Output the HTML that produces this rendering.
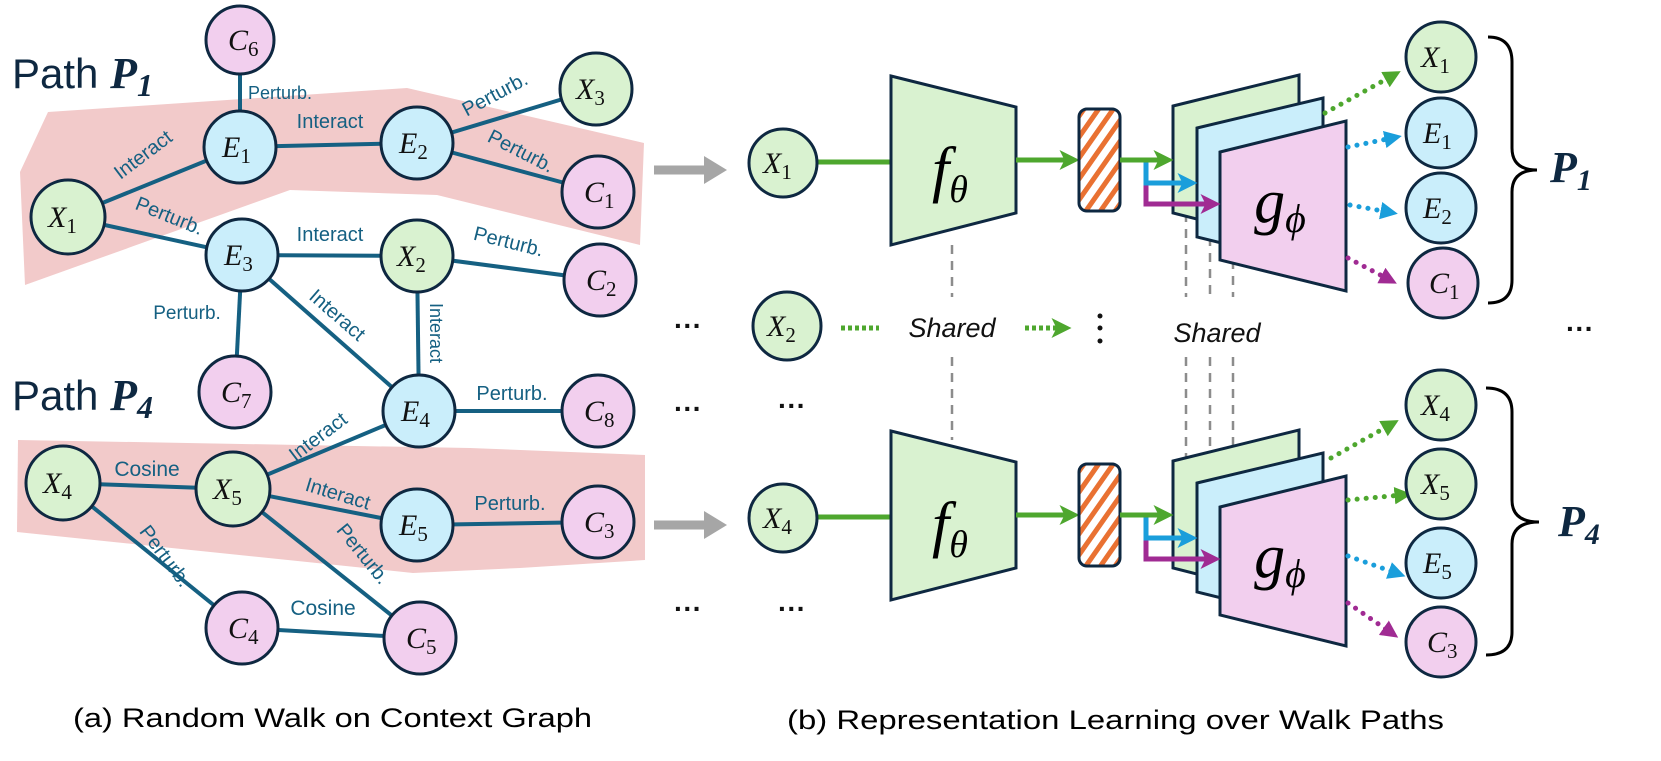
<!DOCTYPE html>
<html><head><meta charset="utf-8"><style>
html,body{margin:0;padding:0;background:#fff;}
svg{display:block;}
.n{stroke:#0e2841;stroke-width:3;}
.g{fill:#d9f2d0}.b{fill:#caeefb}.p{fill:#f2cfee}
.e{stroke:#156082;stroke-width:4;fill:none}
.nl{font-family:"Liberation Serif",serif;font-style:italic;font-size:30px;fill:#111;}
.nl tspan.s{font-style:normal;font-size:21px;}
.el{font-family:"Liberation Sans",sans-serif;font-size:20px;fill:#156082;}
.cap{font-family:"Liberation Sans",sans-serif;font-size:27px;fill:#000;}
.path{font-family:"Liberation Sans",sans-serif;font-size:42px;fill:#0e2841;}
.P{font-family:"Liberation Serif",serif;font-style:italic;font-weight:bold;fill:#0e2841;}
.sh{font-family:"Liberation Sans",sans-serif;font-style:italic;font-size:27px;fill:#111;}
.dots{font-family:"Liberation Sans",sans-serif;font-size:28px;fill:#111;font-weight:bold}
</style></head><body>
<svg width="1661" height="761" viewBox="0 0 1661 761" xmlns="http://www.w3.org/2000/svg">
<defs>
<pattern id="hatch" patternUnits="userSpaceOnUse" width="12" height="12" patternTransform="rotate(35)">
<rect width="12" height="12" fill="#fff"/><rect width="5" height="12" fill="#e97132"/>
</pattern>
<marker id="ag" markerWidth="4" markerHeight="4" refX="2.5" refY="2" orient="auto" markerUnits="strokeWidth"><path d="M0,0 L4,2 L0,4 L1,2z" fill="#4ea72e"/></marker>
<marker id="ab" markerWidth="4" markerHeight="4" refX="2.5" refY="2" orient="auto" markerUnits="strokeWidth"><path d="M0,0 L4,2 L0,4 L1,2z" fill="#1a9edb"/></marker>
<marker id="ap" markerWidth="4" markerHeight="4" refX="2.5" refY="2" orient="auto" markerUnits="strokeWidth"><path d="M0,0 L4,2 L0,4 L1,2z" fill="#a02b93"/></marker>
<marker id="ag2" markerWidth="3.5" markerHeight="3.5" refX="1.5" refY="1.75" orient="auto" markerUnits="strokeWidth"><path d="M0,0 L3.5,1.75 L0,3.5z" fill="#4ea72e"/></marker>
<marker id="ab2" markerWidth="3.5" markerHeight="3.5" refX="1.5" refY="1.75" orient="auto" markerUnits="strokeWidth"><path d="M0,0 L3.5,1.75 L0,3.5z" fill="#1a9edb"/></marker>
<marker id="ap2" markerWidth="3.5" markerHeight="3.5" refX="1.5" refY="1.75" orient="auto" markerUnits="strokeWidth"><path d="M0,0 L3.5,1.75 L0,3.5z" fill="#a02b93"/></marker>
</defs>

<polygon points="48,112 407,88 644,143 640,245 437,195 290,190 25,285 20,172" fill="#f2caca"/>
<polygon points="18,440 470,448 645,455 645,560 520,568 413,573 17,532" fill="#f2caca"/>

<g class="e">
<line x1="240" y1="40" x2="240" y2="147"/>
<line x1="68" y1="217" x2="240" y2="147"/>
<line x1="240" y1="147" x2="417" y2="143"/>
<line x1="417" y1="143" x2="596" y2="89"/>
<line x1="417" y1="143" x2="598" y2="192"/>
<line x1="68" y1="217" x2="242" y2="255"/>
<line x1="242" y1="255" x2="417" y2="256"/>
<line x1="417" y1="256" x2="600" y2="280"/>
<line x1="242" y1="255" x2="235" y2="392"/>
<line x1="242" y1="255" x2="419" y2="411"/>
<line x1="417" y1="256" x2="419" y2="411"/>
<line x1="419" y1="411" x2="598" y2="411"/>
<line x1="233" y1="489" x2="419" y2="411"/>
<line x1="63" y1="483" x2="233" y2="489"/>
<line x1="233" y1="489" x2="417" y2="525"/>
<line x1="417" y1="525" x2="598" y2="522"/>
<line x1="233" y1="489" x2="420" y2="638"/>
<line x1="63" y1="483" x2="242" y2="628"/>
<line x1="242" y1="628" x2="420" y2="638"/>
</g>

<g class="el">
<text x="248" y="99" font-size="18">Perturb.</text>
<text transform="translate(147,160) rotate(-37)" text-anchor="middle">Interact</text>
<text x="330" y="128" text-anchor="middle">Interact</text>
<text transform="translate(498,100) rotate(-28)" text-anchor="middle">Perturb.</text>
<text transform="translate(518,157) rotate(27)" text-anchor="middle">Perturb.</text>
<text transform="translate(167,222) rotate(22)" text-anchor="middle">Perturb.</text>
<text x="330" y="241" text-anchor="middle">Interact</text>
<text transform="translate(507,248) rotate(14)" text-anchor="middle">Perturb.</text>
<text x="187" y="319" text-anchor="middle" font-size="19">Perturb.</text>
<text transform="translate(333,320) rotate(41)" text-anchor="middle">Interact</text>
<text transform="translate(430,333) rotate(90)" text-anchor="middle" font-size="18">Interact</text>
<text x="512" y="400" text-anchor="middle">Perturb.</text>
<text transform="translate(322,442) rotate(-37)" text-anchor="middle">Interact</text>
<text x="147" y="476" text-anchor="middle" font-size="21">Cosine</text>
<text transform="translate(336,500) rotate(17)" text-anchor="middle">Interact</text>
<text x="510" y="510" text-anchor="middle">Perturb.</text>
<text transform="translate(358,558) rotate(51)" text-anchor="middle">Perturb.</text>
<text transform="translate(160,560) rotate(53)" text-anchor="middle">Perturb.</text>
<text x="323" y="615" text-anchor="middle" font-size="21">Cosine</text>
</g>

<g>
<circle class="n p" cx="240" cy="40" r="34"/><text class="nl" x="228" y="50">C<tspan class="s" dy="6">6</tspan></text>
<circle class="n b" cx="240" cy="147" r="36"/><text class="nl" x="222" y="157">E<tspan class="s" dy="6">1</tspan></text>
<circle class="n b" cx="417" cy="143" r="36"/><text class="nl" x="399" y="153">E<tspan class="s" dy="6">2</tspan></text>
<circle class="n g" cx="596" cy="89" r="36"/><text class="nl" x="576" y="99">X<tspan class="s" dy="6">3</tspan></text>
<circle class="n p" cx="598" cy="192" r="36"/><text class="nl" x="584" y="202">C<tspan class="s" dy="6">1</tspan></text>
<circle class="n g" cx="68" cy="217" r="37"/><text class="nl" x="48" y="227">X<tspan class="s" dy="6">1</tspan></text>
<circle class="n b" cx="242" cy="255" r="36"/><text class="nl" x="224" y="265">E<tspan class="s" dy="6">3</tspan></text>
<circle class="n g" cx="417" cy="256" r="36"/><text class="nl" x="397" y="266">X<tspan class="s" dy="6">2</tspan></text>
<circle class="n p" cx="600" cy="280" r="36"/><text class="nl" x="586" y="290">C<tspan class="s" dy="6">2</tspan></text>
<circle class="n p" cx="235" cy="392" r="36"/><text class="nl" x="221" y="402">C<tspan class="s" dy="6">7</tspan></text>
<circle class="n b" cx="419" cy="411" r="36"/><text class="nl" x="401" y="421">E<tspan class="s" dy="6">4</tspan></text>
<circle class="n p" cx="598" cy="411" r="36"/><text class="nl" x="584" y="421">C<tspan class="s" dy="6">8</tspan></text>
<circle class="n g" cx="63" cy="483" r="37"/><text class="nl" x="43" y="493">X<tspan class="s" dy="6">4</tspan></text>
<circle class="n g" cx="233" cy="489" r="37"/><text class="nl" x="213" y="499">X<tspan class="s" dy="6">5</tspan></text>
<circle class="n b" cx="417" cy="525" r="36"/><text class="nl" x="399" y="535">E<tspan class="s" dy="6">5</tspan></text>
<circle class="n p" cx="598" cy="522" r="36"/><text class="nl" x="584" y="532">C<tspan class="s" dy="6">3</tspan></text>
<circle class="n p" cx="242" cy="628" r="36"/><text class="nl" x="228" y="638">C<tspan class="s" dy="6">4</tspan></text>
<circle class="n p" cx="420" cy="638" r="36"/><text class="nl" x="406" y="648">C<tspan class="s" dy="6">5</tspan></text>
</g>

<text class="path" x="12" y="88">Path <tspan class="P" font-size="44">P</tspan><tspan class="P" font-size="32" dy="8">1</tspan></text>
<text class="path" x="12" y="410">Path <tspan class="P" font-size="44">P</tspan><tspan class="P" font-size="32" dy="8">4</tspan></text>

<text class="cap" x="73" y="727" textLength="519" lengthAdjust="spacingAndGlyphs">(a) Random Walk on Context Graph</text>
<text class="cap" x="787" y="729" textLength="657" lengthAdjust="spacingAndGlyphs">(b) Representation Learning over Walk Paths</text>

<g stroke="#8c8c8c" stroke-width="2.5" stroke-dasharray="9,7">
<line x1="952" y1="245" x2="952" y2="297"/><line x1="952" y1="357" x2="952" y2="440"/>
<line x1="1186" y1="213" x2="1186" y2="297"/><line x1="1186" y1="357" x2="1186" y2="470"/>
<line x1="1210" y1="237" x2="1210" y2="297"/><line x1="1210" y1="357" x2="1210" y2="490"/>
<line x1="1233" y1="260" x2="1233" y2="297"/><line x1="1233" y1="357" x2="1233" y2="510"/>
</g>

<g>
<path d="M654,170 L708,170" stroke="#a6a6a6" stroke-width="9"/><polygon points="704,156 727,170 704,184" fill="#a6a6a6"/>
<line x1="818" y1="162" x2="891" y2="162" stroke="#4ea72e" stroke-width="5"/>
<polygon class="n g" points="891,76 1016,107 1016,213 891,245"/>
<text x="950" y="190" text-anchor="middle" font-family="Liberation Serif,serif" font-style="italic" font-size="62">f<tspan font-size="38" dy="12">θ</tspan></text>
<line x1="1016" y1="160" x2="1072" y2="160" stroke="#4ea72e" stroke-width="5" marker-end="url(#ag)"/>
<rect x="1079" y="109" width="41" height="102" rx="8" fill="url(#hatch)" stroke="#0e2841" stroke-width="3"/>
<polygon class="n g" points="1173,106 1299,75 1299,245 1173,213"/>
<polygon class="n b" points="1197,128 1323,98 1323,268 1197,237"/>
<polygon class="n p" points="1220,152 1346,121 1346,291 1220,260"/>
<polyline points="1146,160 1146,204 1213,204" fill="none" stroke="#a02b93" stroke-width="5" marker-end="url(#ap)"/>
<polyline points="1146,160 1146,183 1190,183" fill="none" stroke="#1a9edb" stroke-width="5" marker-end="url(#ab)"/>
<line x1="1120" y1="160" x2="1166" y2="160" stroke="#4ea72e" stroke-width="5" marker-end="url(#ag)"/>
<text x="1280" y="222" text-anchor="middle" font-family="Liberation Serif,serif" font-style="italic" font-size="62">g<tspan font-size="40" dy="10">ϕ</tspan></text>
<circle class="n g" cx="783" cy="163" r="34"/><text class="nl" x="763" y="173">X<tspan class="s" dy="6">1</tspan></text>
</g>
<g transform="translate(0,355)">
<path d="M654,170 L708,170" stroke="#a6a6a6" stroke-width="9"/><polygon points="704,156 727,170 704,184" fill="#a6a6a6"/>
<line x1="818" y1="162" x2="891" y2="162" stroke="#4ea72e" stroke-width="5"/>
<polygon class="n g" points="891,76 1016,107 1016,213 891,245"/>
<text x="950" y="190" text-anchor="middle" font-family="Liberation Serif,serif" font-style="italic" font-size="62">f<tspan font-size="38" dy="12">θ</tspan></text>
<line x1="1016" y1="160" x2="1072" y2="160" stroke="#4ea72e" stroke-width="5" marker-end="url(#ag)"/>
<rect x="1079" y="109" width="41" height="102" rx="8" fill="url(#hatch)" stroke="#0e2841" stroke-width="3"/>
<polygon class="n g" points="1173,106 1299,75 1299,245 1173,213"/>
<polygon class="n b" points="1197,128 1323,98 1323,268 1197,237"/>
<polygon class="n p" points="1220,152 1346,121 1346,291 1220,260"/>
<polyline points="1146,160 1146,204 1213,204" fill="none" stroke="#a02b93" stroke-width="5" marker-end="url(#ap)"/>
<polyline points="1146,160 1146,183 1190,183" fill="none" stroke="#1a9edb" stroke-width="5" marker-end="url(#ab)"/>
<line x1="1120" y1="160" x2="1166" y2="160" stroke="#4ea72e" stroke-width="5" marker-end="url(#ag)"/>
<text x="1280" y="222" text-anchor="middle" font-family="Liberation Serif,serif" font-style="italic" font-size="62">g<tspan font-size="40" dy="10">ϕ</tspan></text>
<circle class="n g" cx="783" cy="163" r="34"/><text class="nl" x="763" y="173">X<tspan class="s" dy="6">4</tspan></text>
</g>

<circle class="n g" cx="787" cy="326" r="34"/><text class="nl" x="767" y="336">X<tspan class="s" dy="6">2</tspan></text>
<line x1="841" y1="328" x2="879" y2="328" stroke="#4ea72e" stroke-width="5" stroke-dasharray="4,3"/>
<text class="sh" x="952" y="337" text-anchor="middle">Shared</text>
<line x1="1025" y1="328" x2="1064" y2="328" stroke="#4ea72e" stroke-width="5" stroke-dasharray="4,3" marker-end="url(#ag)"/>
<circle cx="1100" cy="316" r="2.5" fill="#111"/><circle cx="1100" cy="328" r="2.5" fill="#111"/><circle cx="1100" cy="341" r="2.5" fill="#111"/>
<text class="sh" x="1217" y="342" text-anchor="middle">Shared</text>
<text class="dots" x="688" y="335" text-anchor="middle">···</text>
<text class="dots" x="1580" y="338" text-anchor="middle">···</text>
<text class="dots" x="688" y="418" text-anchor="middle">···</text>
<text class="dots" x="792" y="415" text-anchor="middle">···</text>
<text class="dots" x="688" y="618" text-anchor="middle">···</text>
<text class="dots" x="792" y="618" text-anchor="middle">···</text>

<g stroke-width="5" stroke-dasharray="0.1,9" stroke-linecap="round" fill="none">
<line x1="1325" y1="113" x2="1392" y2="76" stroke="#4ea72e" marker-end="url(#ag2)"/>
<line x1="1348" y1="147" x2="1392" y2="138" stroke="#1a9edb" marker-end="url(#ab2)"/>
<line x1="1350" y1="205" x2="1388" y2="212" stroke="#1a9edb" marker-end="url(#ab2)"/>
<line x1="1348" y1="258" x2="1388" y2="279" stroke="#a02b93" marker-end="url(#ap2)"/>
<line x1="1331" y1="458" x2="1390" y2="425" stroke="#4ea72e" marker-end="url(#ag2)"/>
<line x1="1348" y1="500" x2="1402" y2="495" stroke="#4ea72e" marker-end="url(#ag2)"/>
<line x1="1348" y1="556" x2="1396" y2="573" stroke="#1a9edb" marker-end="url(#ab2)"/>
<line x1="1348" y1="603" x2="1390" y2="632" stroke="#a02b93" marker-end="url(#ap2)"/>
</g>
<g>
<circle class="n g" cx="1441" cy="57" r="35"/><text class="nl" x="1421" y="67">X<tspan class="s" dy="6">1</tspan></text>
<circle class="n b" cx="1441" cy="133" r="35"/><text class="nl" x="1423" y="143">E<tspan class="s" dy="6">1</tspan></text>
<circle class="n b" cx="1441" cy="208" r="35"/><text class="nl" x="1423" y="218">E<tspan class="s" dy="6">2</tspan></text>
<circle class="n p" cx="1443" cy="283" r="35"/><text class="nl" x="1429" y="293">C<tspan class="s" dy="6">1</tspan></text>
<circle class="n g" cx="1441" cy="405" r="35"/><text class="nl" x="1421" y="415">X<tspan class="s" dy="6">4</tspan></text>
<circle class="n g" cx="1441" cy="484" r="35"/><text class="nl" x="1421" y="494">X<tspan class="s" dy="6">5</tspan></text>
<circle class="n b" cx="1441" cy="563" r="35"/><text class="nl" x="1423" y="573">E<tspan class="s" dy="6">5</tspan></text>
<circle class="n p" cx="1441" cy="642" r="35"/><text class="nl" x="1427" y="652">C<tspan class="s" dy="6">3</tspan></text>
</g>
<path d="M1488,37 Q1512,37 1512,62 L1512,148 Q1512,170 1537,170 Q1512,170 1512,192 L1512,280 Q1512,303 1488,303" fill="none" stroke="#000" stroke-width="3"/>
<path d="M1486,388 Q1512,388 1512,412 L1512,500 Q1512,522 1539,522 Q1512,522 1512,544 L1512,632 Q1512,655 1486,655" fill="none" stroke="#000" stroke-width="3"/>
<text x="1550" y="182"><tspan class="P" font-size="44">P</tspan><tspan class="P" font-size="30" dy="8">1</tspan></text>
<text x="1558" y="536"><tspan class="P" font-size="44">P</tspan><tspan class="P" font-size="30" dy="8">4</tspan></text>
</svg>
</body></html>
